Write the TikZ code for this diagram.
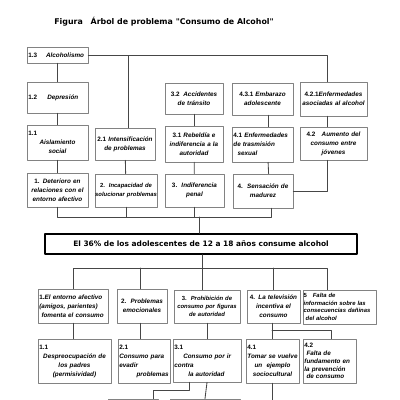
\documentclass[tikz,border=0pt]{standalone}
\usepackage{fontspec}
\usepackage{tikz}
\usetikzlibrary{positioning, calc}
\newfontfamily\boxfont{Liberation Sans}
\newfontfamily\headfont{DejaVu Sans}
\definecolor{boxgray}{RGB}{130, 130, 130}
\definecolor{linegray}{RGB}{70, 70, 70}
\newcommand{\nr}[1]{{\upshape #1}}
\newcommand{\lnr}[1]{\makebox[\hsize][l]{\upshape #1}}

\begin{document}
\begin{tikzpicture}[x=0.025cm, y=-0.025cm, line cap=round, line join=round,
		pbox/.style={draw=boxgray, line width=0.5pt, fill=white, align=center, inner sep=1pt,
			font=\boxfont\bfseries\itshape\fontsize{4.5}{6.4}\selectfont},
		tight/.style={inner sep=0.5pt, font=\boxfont\bfseries\itshape\fontsize{4.2}{5.8}\selectfont},
		conn/.style={draw=linegray, line width=0.6pt}]
			\useasboundingbox (0,0) rectangle (400,400);
			\clip (0,0) rectangle (400,400);

			% -- Title --
			\node[font=\headfont\bfseries\fontsize{5.6}{7}\selectfont] (title) at (164,22) {Figura\quad Árbol de problema "Consumo de Alcohol"};

			% -- Effects (upper tree) --
			\node[pbox, text width=1.455cm, minimum height=0.4cm, align=left] (A13) at (57.5,55) {\nr{1.3}\hspace{1.4em}Alcoholismo};
			\node[pbox, text width=1.455cm, minimum height=0.775cm, align=left] (A12) at (57.5,97.5) {\nr{1.2}\hspace{1.6em}Depresión};
			\node[pbox, text width=1.38cm, minimum height=0.775cm] (C32) at (194,98.5) {\nr{3.2}\hspace{0.6em}Accidentes\\de tránsito};
			\node[pbox, text width=1.455cm, minimum height=0.8cm] (D431) at (262.5,99) {\nr{4.3.1} Embarazo\\adolescente};
			\node[pbox, text width=1.605cm, minimum height=0.85cm] (E421) at (333.5,99) {\nr{4.2.1}Enfermedades\\asociadas al alcohol};

			\node[pbox, text width=1.455cm, minimum height=0.875cm] (B11) at (57.5,142.5) {\lnr{1.1}\\Aislamiento\\social};
			\node[pbox, text width=1.43cm, minimum height=0.8cm] (B21) at (125,144) {\nr{2.1} Intensificación\\de problemas};
			\node[pbox, text width=1.38cm, minimum height=0.9cm] (C31) at (194,144) {\nr{3.1} Rebeldía e\\indiferencia a la\\autoridad};
			\node[pbox, text width=1.455cm, minimum height=0.875cm, align=left] (D41) at (262.5,144.5) {\nr{4.1} Enfermedades\\de trasmisión\\\ \ sexual};
			\node[pbox, text width=1.605cm, minimum height=0.825cm] (E42) at (333.5,143.5) {\nr{4.2}\quad Aumento del\\consumo entre\\jóvenes};

			% -- Causes of the effects --
			\node[pbox, text width=1.455cm, minimum height=0.85cm] (B1) at (57.5,190) {\nr{1.} Deterioro en\\relaciones con el\\entorno afectivo};
			\node[pbox, tight, text width=1.515cm, minimum height=0.825cm] (B2) at (126,190.5) {\nr{2.}\ \ Incapacidad de\\\makebox[\hsize]{solucionar problemas}};
			\node[pbox, text width=1.405cm, minimum height=0.825cm] (C3) at (194.5,190.5) {\nr{3.}\ \ Indiferencia\\penal};
			\node[pbox, text width=1.43cm, minimum height=0.85cm] (D4) at (263,191) {\nr{4.}\ \ Sensación de\\madurez};

			% -- Central problem --
			\node[draw=black, line width=1.2pt, minimum width=7.8cm, minimum height=0.5cm,
				font=\headfont\bfseries\fontsize{5.3}{6}\selectfont] (M) at (201,244) {El 36\% de los adolescentes de 12 a 18 años consume alcohol};

			% -- Causes (lower tree) --
			\node[pbox, text width=1.68cm, minimum height=0.85cm, align=left] (F1) at (73,306) {\nr{1.}El entorno afectivo\\(amigos, parientes)\\\ fomenta el consumo};
			\node[pbox, text width=1.18cm, minimum height=0.85cm] (F2) at (142,306) {\nr{2.}\ \ Problemas\\emocionales\\[4pt]};
			\node[pbox, tight, text width=1.615cm, minimum height=0.825cm] (F3) at (207,306.5) {\nr{3.}\ \ Prohibición de\\consumo por figuras\\de autoridad};
			\node[pbox, text width=1.255cm, minimum height=0.825cm] (F4) at (273.5,306.5) {\nr{4.} La televisión\\incentiva el\\consumo};
			\node[pbox, tight, text width=1.79cm, minimum height=0.85cm, align=left,
				font=\boxfont\bfseries\itshape\fontsize{4.2}{5.4}\selectfont] (F5) at (339.5,307) {\nr{5}\ \ \ Falta de\\información sobre las\\consecuencias dañinas\\\ del alcohol};

			\node[pbox, text width=1.755cm, minimum height=1.1cm] (G1) at (74.5,361) {\lnr{1.1}\\Despreocupación de\\los padres\\(permisividad)};
			\node[pbox, text width=1.23cm, minimum height=1.1cm, align=left] (G2) at (144,361) {\nr{2.1}\\Consumo para\\evadir\\\hfill problemas};
			\node[pbox, text width=1.63cm, minimum height=1.075cm, align=left] (G3) at (207,360.5) {\nr{3.1}\\\hspace{1.4em}Consumo por ir\\contra\\\hspace{2.2em}la autoridad};
			\node[pbox, text width=1.255cm, minimum height=1.1cm] (G4) at (272.5,361) {\lnr{4.1}\\Tomar se vuelve\\un\ \ ejemplo\\sociocultural};
			\node[pbox, text width=1.255cm, minimum height=1.1cm, align=left,
				font=\boxfont\bfseries\itshape\fontsize{4.5}{5.6}\selectfont] (G5) at (329.5,361) {\nr{4.2}\\\ Falta de\\fundamento en\\la prevención\\\ de consumo};

			% -- boxes cut off at the lower edge --
			\node[pbox, minimum width=1.25cm, minimum height=0.75cm] (H1) at (133,414) {};
			\node[pbox, minimum width=1.75cm, minimum height=0.75cm] (H2) at (205,414) {};

			% -- Connectors (upper tree) --
			\coordinate (up) at (199,217);
			\draw[conn] (A13.east) -| ([xshift=-0.16cm]E421.north);
			\draw[conn] (B21.north) ++(0.08cm,0) -- ++(0,-72);
			\draw[conn] (A13) -- (A12);
			\draw[conn] (A12) -- (B11);
			\draw[conn] (B11) -- (B1);
			\draw[conn] (B21) -- (B2);
			\draw[conn] (C32) -- (C31);
			\draw[conn] (C31) -- (C3);
			\draw[conn] ([xshift=0.14cm]D431.south) -- ([xshift=0.14cm]D41.north);
			\draw[conn] ([xshift=0.14cm]D41.south) -- ([xshift=0.14cm]D4.north);
			\draw[conn] ([xshift=-0.16cm]E421.south) -- ([xshift=-0.16cm]E42.north);
			\draw[conn] ([xshift=-0.16cm]E42.south) |- (D4.east);
			\draw[conn] (B1.south) |- ([xshift=0.2cm]D4.south |- up) -- ([xshift=0.2cm]D4.south);
			\draw[conn] (B2.south) -- (B2.south |- up);
			\draw[conn] (C3.south) -- (C3.south |- up);
			\draw[conn] (up) -- (up |- M.north);

			% -- Connectors (lower tree) --
			\coordinate (dn) at (202,268);
			\coordinate (tv) at (272,330);
			\draw[conn] (M.south -| dn) -- (dn);
			\draw[conn] (F1.north) |- ([xshift=-0.29cm]F5.north |- dn) -- ([xshift=-0.29cm]F5.north);
			\draw[conn] ([xshift=-0.05cm]F2.north) -- ([xshift=-0.05cm]F2.north |- dn);
			\draw[conn] (dn) -- (dn |- F3.north);
			\draw[conn] (F4.north) -- (F4.north |- dn);
			\draw[conn] (F1.south) -- (F1.south |- G1.north);
			\draw[conn] ([xshift=-0.05cm]F2.south) -- ([xshift=-0.05cm]F2.south |- G2.north);
			\draw[conn] (F3) -- (G3);
			\draw[conn] (F4.south -| tv) -- (tv |- G4.north);
			\draw[conn] (tv) -| ([xshift=0.04cm]G5.north);
			\draw[conn] ([xshift=-0.45cm]G3.south) -- ++(0,8) -| ([xshift=0.5cm]H1.north);
			\draw[conn] (G3.south) -- (H2.north);
			\draw[conn] (G4.south) -- ++(0,30);

		\end{tikzpicture}
\end{document}
